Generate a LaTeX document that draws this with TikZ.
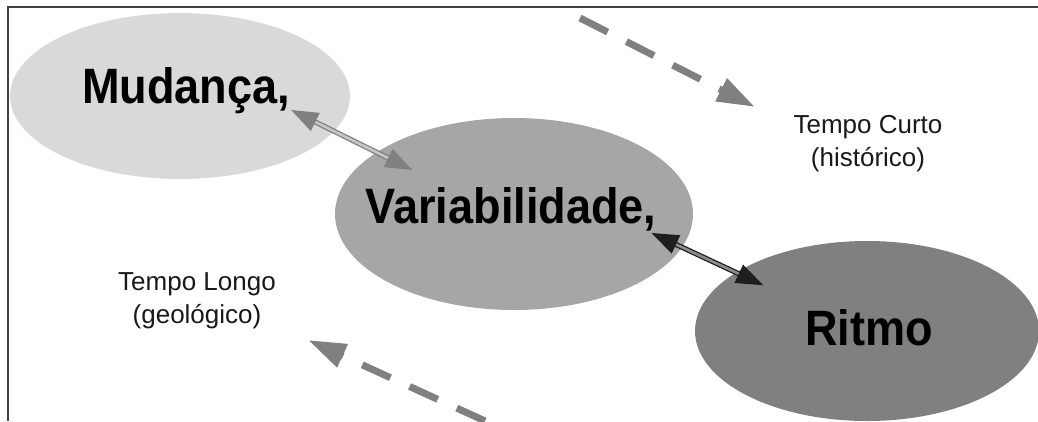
\documentclass[tikz,border=0pt]{standalone}
\usepackage{fontspec}
\setmainfont{Liberation Sans}
\usepackage{graphicx}
\usetikzlibrary{arrows.meta,shapes.geometric,positioning}

\begin{document}
\begin{tikzpicture}[x=1pt,y=1pt,
            blob/.style={ellipse, draw=none},
            bigtext/.style={anchor=base, font=\bfseries\fontsize{46}{46}\selectfont},
            smalltext/.style={align=center, text=black!90, font=\fontsize{26}{33}\selectfont},
            twoway/.style={double, line width=1.3pt, double distance=2.6pt,
              {Triangle[length=27pt,width=20pt]}-{Triangle[length=27pt,width=20pt]}},
            timearrow/.style={draw=gray, line width=7pt, dash pattern=on 31pt off 21pt,
              -{Triangle[length=38pt,width=24pt]}}]
            \tikzstyle{every node}+=[inner sep=0pt]
            \clip (0,0) rectangle (1038,-421);
            \draw [black!75, line width=2pt] (1038,-7) -- (8,-7) -- (8,-421);
            \node [blob, fill=black!15, minimum width=340pt, minimum height=166pt] (mud) at (180,-96) {};
            \node [bigtext] (mudtxt) at (186,-103) {\scalebox{0.98}[1.08]{Mudança,}};
            \node [blob, fill=black!35, minimum width=358pt, minimum height=192pt] (var) at (514,-214) {};
            \node [bigtext] (vartxt) at (511,-223) {\scalebox{0.98}[1.08]{Variabilidade,}};
            \node [blob, fill=black!50, minimum width=344pt, minimum height=180pt] (rit) at (867,-331) {};
            \node [bigtext] (rittxt) at (869,-345) {\scalebox{0.98}[1.08]{Ritmo}};
            \draw [twoway, draw=black!50, double=black!22] ([shift={(1,-7)}]mudtxt.base east) -- ([shift={(25,-24)}]var.north west);
            \draw [twoway, draw=black!88, double=black!45] ([shift={(-5,-10)}]vartxt.base east) -- ([shift={(18,-18)}]rit.north west);
            \node [smalltext] (curto) at (868,-144) {Tempo Curto\\(histórico)};
            \node [smalltext] (longo) at (197,-301) {Tempo Longo\\(geológico)};
            \coordinate (curtofrom) at (580,-18);
            \coordinate (curtoto) at (755,-107);
            \draw [timearrow] (curtofrom) -- (curtoto);
            \coordinate (longofrom) at (485,-421);
            \coordinate (longoto) at (308,-340);
            \draw [timearrow] (longofrom) -- (longoto);
\end{tikzpicture}
\end{document}
